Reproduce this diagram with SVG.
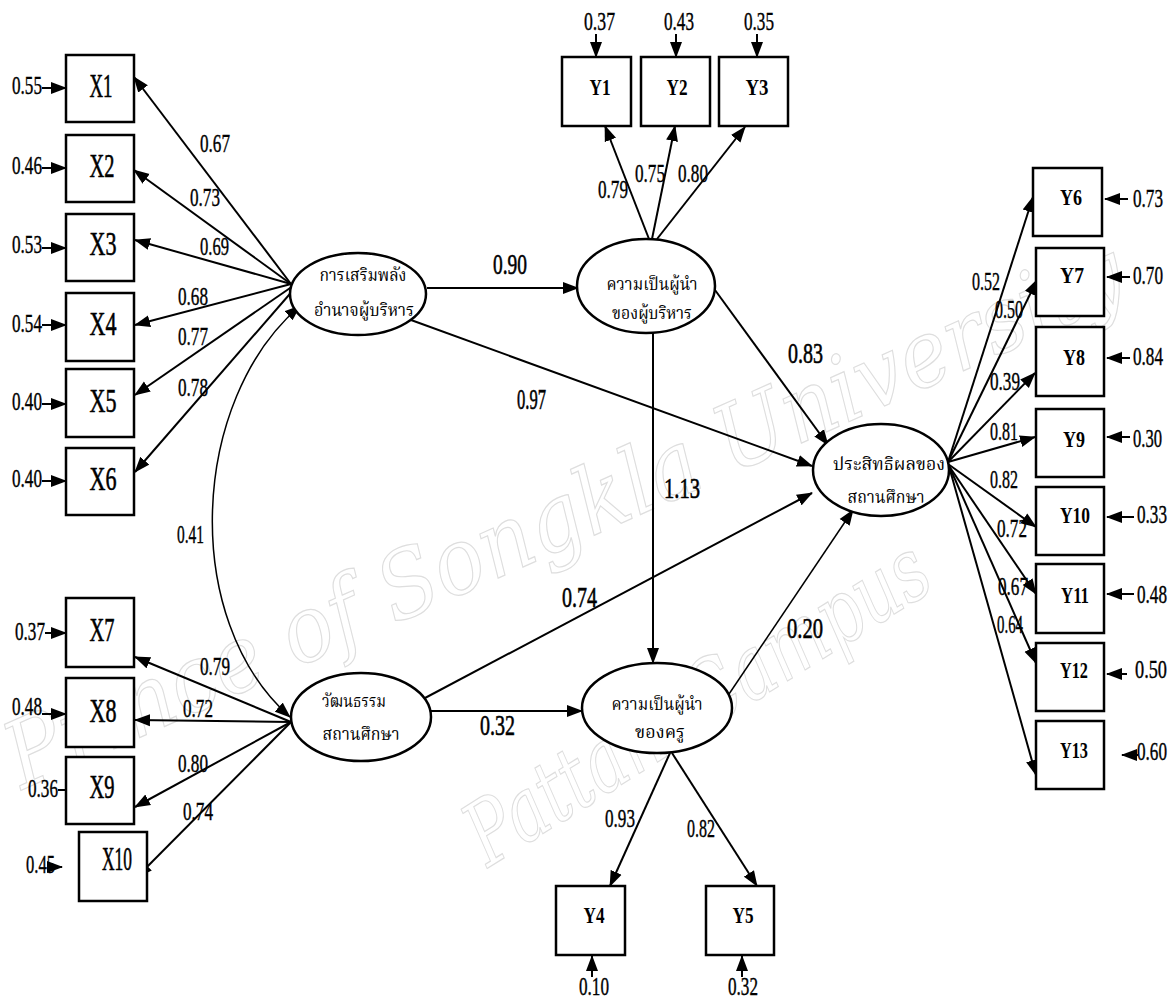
<svg xmlns="http://www.w3.org/2000/svg" width="1173" height="999" viewBox="0 0 1173 999">
<style>
.box{fill:#fff;stroke:#000;stroke-width:2.5}
.ell{fill:#fff;stroke:#000;stroke-width:2.5}
.c{fill:none;stroke:#000;stroke-width:2;marker-end:url(#ah)}
.ct{fill:none;stroke:#000;stroke-width:1.5;marker-end:url(#ah)}
.n{font-family:"Liberation Serif",serif;font-size:26px;fill:#000;stroke:#000;stroke-width:0.4}
.nr{font-family:"Liberation Serif",serif;font-size:26px;fill:#000;stroke:#000;stroke-width:0.4;text-anchor:end}
.nb{font-family:"Liberation Serif",serif;font-size:30px;fill:#000;stroke:#000;stroke-width:0.6}
.xl{font-family:"Liberation Serif",serif;font-size:33px;fill:#000;stroke:#000;stroke-width:0.6;text-anchor:middle}
.yl{font-family:"Liberation Serif",serif;font-size:23px;font-weight:bold;fill:#000;text-anchor:middle}
.th{font-family:"Noto Serif Thai","Noto Sans Thai","Tlwg Typo","Loma","Garuda","Norasi","DejaVu Sans",sans-serif;font-size:17px;fill:#000;text-anchor:middle}
.wm{font-family:"DejaVu Serif",serif;font-style:italic;fill:none;stroke:#dedede;stroke-width:1.2}
</style>
<defs>
<marker id="ah" markerUnits="userSpaceOnUse" markerWidth="16" markerHeight="13" viewBox="0 0 16 12" refX="15" refY="6" orient="auto"><path d="M0,0 L16,6 L0,12 z" fill="#000"/></marker>
<marker id="as" markerUnits="userSpaceOnUse" markerWidth="16" markerHeight="13" viewBox="0 0 16 12" refX="15" refY="6" orient="auto-start-reverse"><path d="M0,0 L16,6 L0,12 z" fill="#000"/></marker>
</defs>
<rect width="1173" height="999" fill="#fff"/>
<g id="watermark">
<text class="wm" font-size="92" transform="translate(22,790) rotate(-24)" textLength="1215" lengthAdjust="spacingAndGlyphs">Prince of Songkla University</text>
<text class="wm" font-size="88" transform="translate(488,868) rotate(-32)" textLength="530" lengthAdjust="spacingAndGlyphs">Pattani Campus</text>
</g>
<g id="connectors">
<line class="c" x1="291" y1="284" x2="134" y2="77"/>
<line class="c" x1="291" y1="284" x2="134" y2="170"/>
<line class="c" x1="291" y1="284" x2="135" y2="240"/>
<line class="c" x1="291" y1="284" x2="135" y2="325"/>
<line class="c" x1="293" y1="286" x2="135" y2="395"/>
<line class="c" x1="295" y1="288" x2="135" y2="472"/>
<path d="M300,306 C190,400 180,620 290,717" fill="none" stroke="#000" stroke-width="1.5" marker-start="url(#as)" marker-end="url(#ah)"/>
<line class="c" x1="291" y1="722" x2="135" y2="657"/>
<line class="c" x1="291" y1="722" x2="135" y2="720"/>
<line class="c" x1="291" y1="722" x2="135" y2="807"/>
<line class="c" x1="291" y1="722" x2="137" y2="877"/>
<line class="c" x1="42" y1="88" x2="66" y2="88"/>
<line class="c" x1="42" y1="168" x2="66" y2="168"/>
<line class="c" x1="42" y1="248" x2="66" y2="248"/>
<line class="c" x1="42" y1="325" x2="66" y2="325"/>
<line class="c" x1="42" y1="404" x2="66" y2="404"/>
<line class="c" x1="42" y1="481" x2="66" y2="481"/>
<line class="c" x1="45" y1="633" x2="66" y2="633"/>
<line class="c" x1="42" y1="714" x2="66" y2="714"/>
<line class="c" x1="58" y1="790" x2="82" y2="790"/>
<line class="c" x1="47" y1="867" x2="62" y2="867"/>
<line class="c" x1="427" y1="288" x2="578" y2="288"/>
<line class="c" x1="411" y1="320" x2="812" y2="466"/>
<line class="c" x1="715" y1="290" x2="828" y2="445"/>
<line class="c" x1="653" y1="332" x2="653" y2="663"/>
<line class="c" x1="425" y1="698" x2="812" y2="493"/>
<line class="c" x1="431" y1="711" x2="582" y2="711"/>
<line class="ct" x1="727" y1="697" x2="853" y2="510"/>
<line class="c" x1="649" y1="239" x2="605" y2="126"/>
<line class="c" x1="652" y1="239" x2="675" y2="126"/>
<line class="c" x1="657" y1="239" x2="745" y2="127"/>
<line class="c" x1="596" y1="34" x2="596" y2="57"/>
<line class="c" x1="676" y1="34" x2="676" y2="57"/>
<line class="c" x1="757" y1="34" x2="757" y2="57"/>
<line class="c" x1="670" y1="753" x2="610" y2="886"/>
<line class="c" x1="672" y1="753" x2="757" y2="886"/>
<line class="c" x1="592" y1="977" x2="592" y2="956"/>
<line class="c" x1="742" y1="977" x2="742" y2="956"/>
<line class="c" x1="948" y1="462" x2="1033" y2="197"/>
<line class="c" x1="948" y1="462" x2="1037" y2="280"/>
<line class="c" x1="948" y1="462" x2="1035" y2="373"/>
<line class="c" x1="948" y1="462" x2="1035" y2="437"/>
<line class="c" x1="948" y1="464" x2="1036" y2="527"/>
<line class="c" x1="949" y1="466" x2="1036" y2="594"/>
<line class="c" x1="950" y1="468" x2="1036" y2="663"/>
<line class="c" x1="950" y1="470" x2="1036" y2="775"/>
<line class="c" x1="1128" y1="199" x2="1105" y2="199"/>
<line class="c" x1="1130" y1="277" x2="1107" y2="277"/>
<line class="c" x1="1130" y1="358" x2="1107" y2="358"/>
<line class="c" x1="1130" y1="437" x2="1107" y2="437"/>
<line class="c" x1="1134" y1="517" x2="1107" y2="517"/>
<line class="c" x1="1134" y1="594" x2="1107" y2="594"/>
<line class="c" x1="1127" y1="674" x2="1107" y2="674"/>
<line class="c" x1="1138" y1="755" x2="1122" y2="755"/>
</g>
<g id="labels">
<text class="n" x="200" y="152" textLength="30" lengthAdjust="spacingAndGlyphs">0.67</text>
<text class="n" x="190" y="206" textLength="30" lengthAdjust="spacingAndGlyphs">0.73</text>
<text class="n" x="200" y="255" textLength="29" lengthAdjust="spacingAndGlyphs">0.69</text>
<text class="n" x="178" y="305" textLength="30" lengthAdjust="spacingAndGlyphs">0.68</text>
<text class="n" x="178" y="345" textLength="30" lengthAdjust="spacingAndGlyphs">0.77</text>
<text class="n" x="178" y="396" textLength="30" lengthAdjust="spacingAndGlyphs">0.78</text>
<text class="n" x="177" y="543" textLength="27" lengthAdjust="spacingAndGlyphs">0.41</text>
<text class="n" x="200" y="675" textLength="30" lengthAdjust="spacingAndGlyphs">0.79</text>
<text class="n" x="183" y="717" textLength="30" lengthAdjust="spacingAndGlyphs">0.72</text>
<text class="n" x="178" y="772" textLength="30" lengthAdjust="spacingAndGlyphs">0.80</text>
<text class="n" x="183" y="820" textLength="30" lengthAdjust="spacingAndGlyphs">0.74</text>
<text class="n" x="12" y="94" textLength="30" lengthAdjust="spacingAndGlyphs">0.55</text>
<text class="n" x="12" y="174" textLength="30" lengthAdjust="spacingAndGlyphs">0.46</text>
<text class="n" x="12" y="253" textLength="30" lengthAdjust="spacingAndGlyphs">0.53</text>
<text class="n" x="12" y="332" textLength="30" lengthAdjust="spacingAndGlyphs">0.54</text>
<text class="n" x="12" y="410" textLength="30" lengthAdjust="spacingAndGlyphs">0.40</text>
<text class="n" x="12" y="487" textLength="30" lengthAdjust="spacingAndGlyphs">0.40</text>
<text class="n" x="15" y="640" textLength="30" lengthAdjust="spacingAndGlyphs">0.37</text>
<text class="n" x="12" y="715" textLength="30" lengthAdjust="spacingAndGlyphs">0.48</text>
<text class="n" x="28" y="797" textLength="30" lengthAdjust="spacingAndGlyphs">0.36</text>
<text class="n" x="26" y="873" textLength="29" lengthAdjust="spacingAndGlyphs">0.45</text>
<text class="nb" x="493" y="274" textLength="34" lengthAdjust="spacingAndGlyphs">0.90</text>
<text class="nb" x="517" y="409" textLength="29" lengthAdjust="spacingAndGlyphs">0.97</text>
<text class="nb" x="788" y="363" textLength="35" lengthAdjust="spacingAndGlyphs">0.83</text>
<text class="nb" x="664" y="498" textLength="36" lengthAdjust="spacingAndGlyphs">1.13</text>
<text class="nb" x="562" y="607" textLength="35" lengthAdjust="spacingAndGlyphs">0.74</text>
<text class="nb" x="480" y="735" textLength="35" lengthAdjust="spacingAndGlyphs">0.32</text>
<text class="nb" x="787" y="638" textLength="36" lengthAdjust="spacingAndGlyphs">0.20</text>
<text class="n" x="598" y="198" textLength="30" lengthAdjust="spacingAndGlyphs">0.79</text>
<text class="n" x="635" y="182" textLength="30" lengthAdjust="spacingAndGlyphs">0.75</text>
<text class="n" x="678" y="182" textLength="30" lengthAdjust="spacingAndGlyphs">0.80</text>
<text class="n" x="584" y="30" textLength="31" lengthAdjust="spacingAndGlyphs">0.37</text>
<text class="n" x="664" y="30" textLength="30" lengthAdjust="spacingAndGlyphs">0.43</text>
<text class="n" x="744" y="30" textLength="30" lengthAdjust="spacingAndGlyphs">0.35</text>
<text class="n" x="605" y="827" textLength="30" lengthAdjust="spacingAndGlyphs">0.93</text>
<text class="n" x="687" y="837" textLength="28" lengthAdjust="spacingAndGlyphs">0.82</text>
<text class="n" x="579" y="995" textLength="30" lengthAdjust="spacingAndGlyphs">0.10</text>
<text class="n" x="728" y="995" textLength="30" lengthAdjust="spacingAndGlyphs">0.32</text>
<text class="n" x="972" y="290" textLength="28" lengthAdjust="spacingAndGlyphs">0.52</text>
<text class="n" x="995" y="318" textLength="28" lengthAdjust="spacingAndGlyphs">0.50</text>
<text class="n" x="990" y="390" textLength="30" lengthAdjust="spacingAndGlyphs">0.39</text>
<text class="n" x="990" y="440" textLength="28" lengthAdjust="spacingAndGlyphs">0.81</text>
<text class="n" x="990" y="488" textLength="28" lengthAdjust="spacingAndGlyphs">0.82</text>
<text class="n" x="997" y="537" textLength="30" lengthAdjust="spacingAndGlyphs">0.72</text>
<text class="n" x="998" y="595" textLength="30" lengthAdjust="spacingAndGlyphs">0.67</text>
<text class="n" x="997" y="633" textLength="26" lengthAdjust="spacingAndGlyphs">0.64</text>
<text class="nr" x="1163" y="207" textLength="30" lengthAdjust="spacingAndGlyphs">0.73</text>
<text class="nr" x="1163" y="284" textLength="30" lengthAdjust="spacingAndGlyphs">0.70</text>
<text class="nr" x="1163" y="365" textLength="30" lengthAdjust="spacingAndGlyphs">0.84</text>
<text class="nr" x="1162" y="447" textLength="29" lengthAdjust="spacingAndGlyphs">0.30</text>
<text class="nr" x="1167" y="523" textLength="30" lengthAdjust="spacingAndGlyphs">0.33</text>
<text class="nr" x="1167" y="603" textLength="30" lengthAdjust="spacingAndGlyphs">0.48</text>
<text class="nr" x="1167" y="678" textLength="32" lengthAdjust="spacingAndGlyphs">0.50</text>
<text class="nr" x="1167" y="760" textLength="30" lengthAdjust="spacingAndGlyphs">0.60</text>
</g>
<g id="X1"><rect class="box" x="66" y="55" width="68" height="67"/><text class="xl" x="101" y="97" textLength="23" lengthAdjust="spacingAndGlyphs">X1</text></g>
<g id="X2"><rect class="box" x="66" y="135" width="68" height="67"/><text class="xl" x="102" y="177" textLength="25" lengthAdjust="spacingAndGlyphs">X2</text></g>
<g id="X3"><rect class="box" x="66" y="214" width="68" height="67"/><text class="xl" x="103" y="255" textLength="27" lengthAdjust="spacingAndGlyphs">X3</text></g>
<g id="X4"><rect class="box" x="66" y="293" width="68" height="68"/><text class="xl" x="103" y="335" textLength="27" lengthAdjust="spacingAndGlyphs">X4</text></g>
<g id="X5"><rect class="box" x="66" y="369" width="68" height="68"/><text class="xl" x="103" y="412" textLength="27" lengthAdjust="spacingAndGlyphs">X5</text></g>
<g id="X6"><rect class="box" x="66" y="448" width="68" height="67"/><text class="xl" x="103" y="490" textLength="27" lengthAdjust="spacingAndGlyphs">X6</text></g>
<g id="X7"><rect class="box" x="66" y="598" width="68" height="69"/><text class="xl" x="102" y="641" textLength="25" lengthAdjust="spacingAndGlyphs">X7</text></g>
<g id="X8"><rect class="box" x="66" y="678" width="68" height="69"/><text class="xl" x="103" y="722" textLength="27" lengthAdjust="spacingAndGlyphs">X8</text></g>
<g id="X9"><rect class="box" x="66" y="757" width="68" height="67"/><text class="xl" x="102" y="798" textLength="25" lengthAdjust="spacingAndGlyphs">X9</text></g>
<g id="X10"><rect class="box" x="79" y="832" width="68" height="69"/><text class="xl" x="117" y="870" font-size="27" textLength="30" lengthAdjust="spacingAndGlyphs">X10</text></g>
<g id="Y1"><rect class="box" x="562" y="57" width="69" height="69"/><text class="yl" x="600" y="95" textLength="21" lengthAdjust="spacingAndGlyphs">Y1</text></g>
<g id="Y2"><rect class="box" x="641" y="57" width="69" height="69"/><text class="yl" x="677" y="95" textLength="21" lengthAdjust="spacingAndGlyphs">Y2</text></g>
<g id="Y3"><rect class="box" x="719" y="57" width="69" height="69"/><text class="yl" x="757" y="95" textLength="23" lengthAdjust="spacingAndGlyphs">Y3</text></g>
<g id="Y4"><rect class="box" x="556" y="886" width="69" height="69"/><text class="yl" x="594" y="923" textLength="21" lengthAdjust="spacingAndGlyphs">Y4</text></g>
<g id="Y5"><rect class="box" x="706" y="886" width="68" height="69"/><text class="yl" x="743" y="923" textLength="21" lengthAdjust="spacingAndGlyphs">Y5</text></g>
<g id="Y6"><rect class="box" x="1033" y="168" width="69" height="68"/><text class="yl" x="1071" y="205" textLength="22" lengthAdjust="spacingAndGlyphs">Y6</text></g>
<g id="Y7"><rect class="box" x="1036" y="248" width="68" height="68"/><text class="yl" x="1072" y="283" textLength="24" lengthAdjust="spacingAndGlyphs">Y7</text></g>
<g id="Y8"><rect class="box" x="1036" y="327" width="68" height="69"/><text class="yl" x="1074" y="365" textLength="22" lengthAdjust="spacingAndGlyphs">Y8</text></g>
<g id="Y9"><rect class="box" x="1036" y="409" width="68" height="68"/><text class="yl" x="1074" y="447" textLength="22" lengthAdjust="spacingAndGlyphs">Y9</text></g>
<g id="Y10"><rect class="box" x="1036" y="487" width="68" height="68"/><text class="yl" x="1075" y="523" textLength="30" lengthAdjust="spacingAndGlyphs">Y10</text></g>
<g id="Y11"><rect class="box" x="1036" y="564" width="68" height="69"/><text class="yl" x="1075" y="603" textLength="28" lengthAdjust="spacingAndGlyphs">Y11</text></g>
<g id="Y12"><rect class="box" x="1036" y="643" width="68" height="68"/><text class="yl" x="1074" y="678" textLength="28" lengthAdjust="spacingAndGlyphs">Y12</text></g>
<g id="Y13"><rect class="box" x="1036" y="721" width="68" height="68"/><text class="yl" x="1074" y="758" textLength="28" lengthAdjust="spacingAndGlyphs">Y13</text></g>
<g id="E1"><ellipse class="ell" cx="358" cy="294" rx="68" ry="41"/><text class="th" x="363" y="281" textLength="87" lengthAdjust="spacingAndGlyphs">การเสริมพลัง</text><text class="th" x="364" y="316" textLength="100" lengthAdjust="spacingAndGlyphs">อำนาจผู้บริหาร</text></g>
<g id="E2"><ellipse class="ell" cx="646" cy="286" rx="69" ry="47"/><text class="th" x="652" y="290" textLength="91" lengthAdjust="spacingAndGlyphs">ความเป็นผู้นำ</text><text class="th" x="652" y="319" textLength="80" lengthAdjust="spacingAndGlyphs">ของผู้บริหาร</text></g>
<g id="E3"><ellipse class="ell" cx="881" cy="470" rx="68" ry="46"/><text class="th" x="889" y="470" textLength="112" lengthAdjust="spacingAndGlyphs">ประสิทธิผลของ</text><text class="th" x="886" y="503" textLength="77" lengthAdjust="spacingAndGlyphs">สถานศึกษา</text></g>
<g id="E4"><ellipse class="ell" cx="361" cy="717" rx="70" ry="44"/><text class="th" x="354" y="707" textLength="64" lengthAdjust="spacingAndGlyphs">วัฒนธรรม</text><text class="th" x="361" y="740" textLength="77" lengthAdjust="spacingAndGlyphs">สถานศึกษา</text></g>
<g id="E5"><ellipse class="ell" cx="657" cy="708" rx="75" ry="45"/><text class="th" x="657" y="710" textLength="91" lengthAdjust="spacingAndGlyphs">ความเป็นผู้นำ</text><text class="th" x="660" y="738" textLength="50" lengthAdjust="spacingAndGlyphs">ของครู</text></g>
</svg>
